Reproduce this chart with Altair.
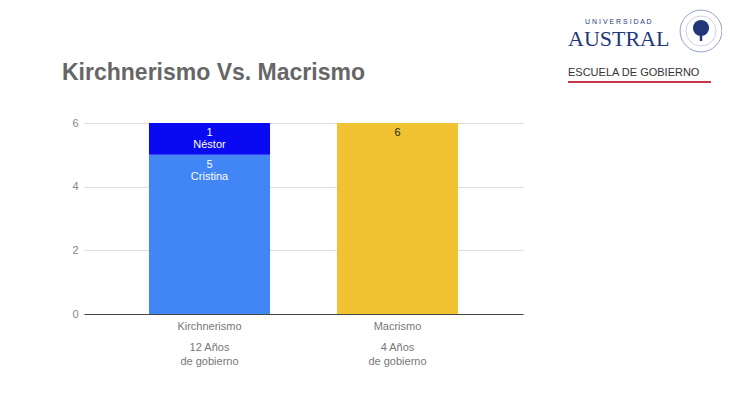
import altair as alt
import pandas as pd

categories = ["Kirchnerismo", "Kirchnerismo", "Macrismo"]
segments = ["Cristina", "Néstor", "Macri"]
values = [5, 1, 6]
stack_order = [1, 2, 1]
seg_labels = ["5\nCristina", "1\nNéstor", "6"]
label_colors = ["white", "white", "#222222"]
seg_colors = ["#4285f4", "#0a0af2", "#f1c232"]
y_ticks = [0, 2, 4, 6]
sub_labels = {"Kirchnerismo": "12 Años|de gobierno", "Macrismo": "4 Años|de gobierno"}

df = pd.DataFrame({
    "cat": categories, "seg": segments, "val": values, "ord": stack_order,
    "lab": seg_labels, "lc": label_colors,
})

FONT = "Liberation Sans"
xscale = alt.Scale(paddingInner=0.356, paddingOuter=0.3455)
yscale = alt.Scale(domain=[0, 6], nice=False)
y_axis = alt.Axis(title=None, values=y_ticks, grid=True, gridColor="#dddddd",
                  domain=False, ticks=False, labelColor="#888888",
                  labelFontSize=11, labelFont=FONT, labelPadding=6)

bars = alt.Chart(df).mark_bar().encode(
    x=alt.X("cat:N", scale=xscale,
            axis=alt.Axis(title=None, labelAngle=0, ticks=False, domain=True, orient="bottom",
                          domainColor="#444444", domainWidth=1.2,
                          labelColor="#777777", labelFontSize=11, labelFont=FONT,
                          labelPadding=6)),
    y=alt.Y("val:Q", stack="zero", scale=yscale, axis=y_axis),
    color=alt.Color("seg:N", scale=alt.Scale(domain=segments, range=seg_colors), legend=None),
    order=alt.Order("ord:Q"),
)

expr = ("split(datum.value == 'Kirchnerismo' ? '" + sub_labels["Kirchnerismo"] +
        "' : '" + sub_labels["Macrismo"] + "', '|')")

texts = alt.Chart(df).transform_stack(
    stack="val", groupby=["cat"], sort=[alt.SortField("ord")], as_=["y0", "y1"]
).mark_text(lineBreak="\n", baseline="top", dy=4, fontSize=11, font=FONT, lineHeight=12).encode(
    x=alt.X("cat:N", scale=xscale,
            axis=alt.Axis(title=None, labelAngle=0, ticks=False, domain=False, orient="bottom",
                          grid=False, labelColor="#777777", labelFontSize=11, labelFont=FONT,
                          labelPadding=27, labelLineHeight=14, labelExpr=expr)),
    y=alt.Y("y1:Q", scale=yscale, axis=y_axis),
    text="lab:N",
    color=alt.Color("lc:N", scale=None),
)

logo_df = pd.DataFrame({"k": [0]})
base = alt.Chart(logo_df)

univ = base.mark_text(text="U  N  I  V  E  R  S  I  D  A  D", fontSize=7, font=FONT, color="#2a3a78",
                      align="left", baseline="middle").encode(x=alt.value(501), y=alt.value(-101))
austral = base.mark_text(text="AUSTRAL", fontSize=22, font="Liberation Serif", color="#22377a",
                         align="left", baseline="alphabetic").encode(x=alt.value(484), y=alt.value(-77))
escuela = base.mark_text(text="ESCUELA DE GOBIERNO", fontSize=11, font=FONT, color="#333333",
                         align="left", baseline="middle").encode(x=alt.value(484), y=alt.value(-50))
redline = base.mark_rule(color="#c8364c", strokeWidth=2).encode(
    x=alt.value(484), x2=alt.value(627), y=alt.value(-41))
seal_ring = base.mark_point(shape="circle", size=1750, color="#6b7bb5", strokeWidth=1,
                            filled=False).encode(x=alt.value(617), y=alt.value(-92))
seal_ring2 = base.mark_point(shape="circle", size=900, color="#8a96c4", strokeWidth=0.6,
                             filled=False).encode(x=alt.value(617), y=alt.value(-92))
seal_tree = base.mark_point(shape="circle", size=260, color="#22377a", filled=True,
                            opacity=1).encode(x=alt.value(617), y=alt.value(-95))
seal_trunk = base.mark_rule(color="#22377a", strokeWidth=2.5).encode(
    x=alt.value(617), y=alt.value(-92), y2=alt.value(-82))

title = base.mark_text(text="Kirchnerismo Vs. Macrismo", fontSize=23, fontWeight="bold",
                       font=FONT, color="#666666", align="left", baseline="alphabetic").encode(
    x=alt.value(-22), y=alt.value(-43))

chart = alt.layer(bars, texts, title, univ, austral, escuela, redline,
                  seal_ring, seal_ring2, seal_trunk, seal_tree).resolve_axis(
    x="independent"
).properties(
    width=439, height=191,
    autosize=alt.AutoSizeParams(type="none"),
    padding={"left": 76, "top": 115, "right": 199, "bottom": 80},
    background="white",
).configure_view(stroke=None)

chart.save("out.html", embed_options={"renderer": "svg", "actions": False})
